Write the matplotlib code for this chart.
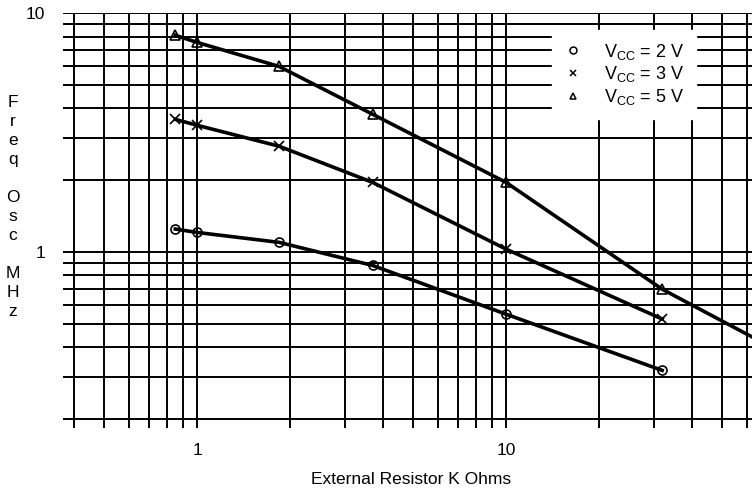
import matplotlib
matplotlib.use('Agg')
import matplotlib.pyplot as plt
from matplotlib.lines import Line2D

plt.rcParams['font.family'] = ['Liberation Sans', 'DejaVu Sans']

# external resistor (K Ohms) and oscillator frequency (MHz)
r_2v = [0.85, 1.0, 1.84, 3.7, 10.0, 32.0]
f_2v = [1.25, 1.21, 1.10, 0.88, 0.55, 0.32]
r_3v = [0.85, 1.0, 1.84, 3.7, 10.0, 32.0]
f_3v = [3.6, 3.4, 2.78, 1.96, 1.03, 0.525]
r_5v = [0.85, 1.0, 1.84, 3.7, 10.0, 32.0, 100.0]
f_5v = [8.1, 7.56, 6.0, 3.78, 1.96, 0.70, 0.32]
vcc_labels = ['2 V', '3 V', '5 V']
markers = ['o', 'x', '^']

# grid positions and the few labelled ticks
x_grid = [0.4, 0.5, 0.6, 0.7, 0.8, 0.9, 1, 2, 3, 4, 5, 6, 7, 8, 9,
          10, 20, 30, 40, 50, 60]
y_grid = [0.2, 0.3, 0.4, 0.5, 0.6, 0.7, 0.8, 0.9, 1, 2, 3, 4, 5, 6, 7, 8, 9, 10]
x_labelled = {1: '1', 10: '10'}
y_labelled = {1: '1', 10: '10'}

fig = plt.figure(figsize=(7.52, 4.92), dpi=100)
ax = fig.add_axes([63 / 752, 64 / 492, 689 / 752, 415 / 492])
ax.set_xscale('log')
ax.set_yscale('log')
ax.set_xlim(0.368, 62.5)
ax.set_ylim(0.1836, 10.04)

ax.set_xticks(x_grid)
ax.set_xticklabels([x_labelled.get(v, '') for v in x_grid])
ax.set_yticks(y_grid)
ax.set_yticklabels([y_labelled.get(v, '') for v in y_grid])
ax.minorticks_off()
ax.tick_params(length=0, labelsize=12.5)
ax.tick_params(axis='x', pad=11)
ax.tick_params(axis='y', pad=13)
ax.grid(True, color='black', lw=1.4)
ax.set_axisbelow(True)
for s in ax.spines.values():
    s.set_visible(False)

series = [(r_2v, f_2v), (r_3v, f_3v), (r_5v, f_5v)]
for (r, f), m in zip(series, markers):
    ax.plot(r, f, color='black', lw=2.6, marker=m, ms=6.5, mfc='none',
            mew=1.2, zorder=3)

handles = [Line2D([], [], color='black', ls='none', marker=m, ms=5,
                  mfc='none', mew=1.1) for m in markers]
labels = [r'V$_\mathregular{CC}$ = ' + v for v in vcc_labels]
leg = ax.legend(handles, labels, loc='upper left',
                bbox_to_anchor=(0.71, 0.959), borderaxespad=0,
                fontsize=13, handlelength=1.0, handletextpad=1.2,
                labelspacing=0.15, borderpad=0.65, fancybox=False,
                framealpha=1, facecolor='white', edgecolor='white')
leg.set_zorder(5)

fig.text(411 / 752, 1 - 480 / 492, 'External Resistor K Ohms',
         ha='center', va='center', fontsize=12.5)
fig.text(13 / 752, 1 - 207 / 492, 'F\nr\ne\nq\n\nO\ns\nc\n\nM\nH\nz',
         ha='center', va='center', fontsize=12.5, linespacing=1.33)

fig.savefig('out.png', dpi=100)
